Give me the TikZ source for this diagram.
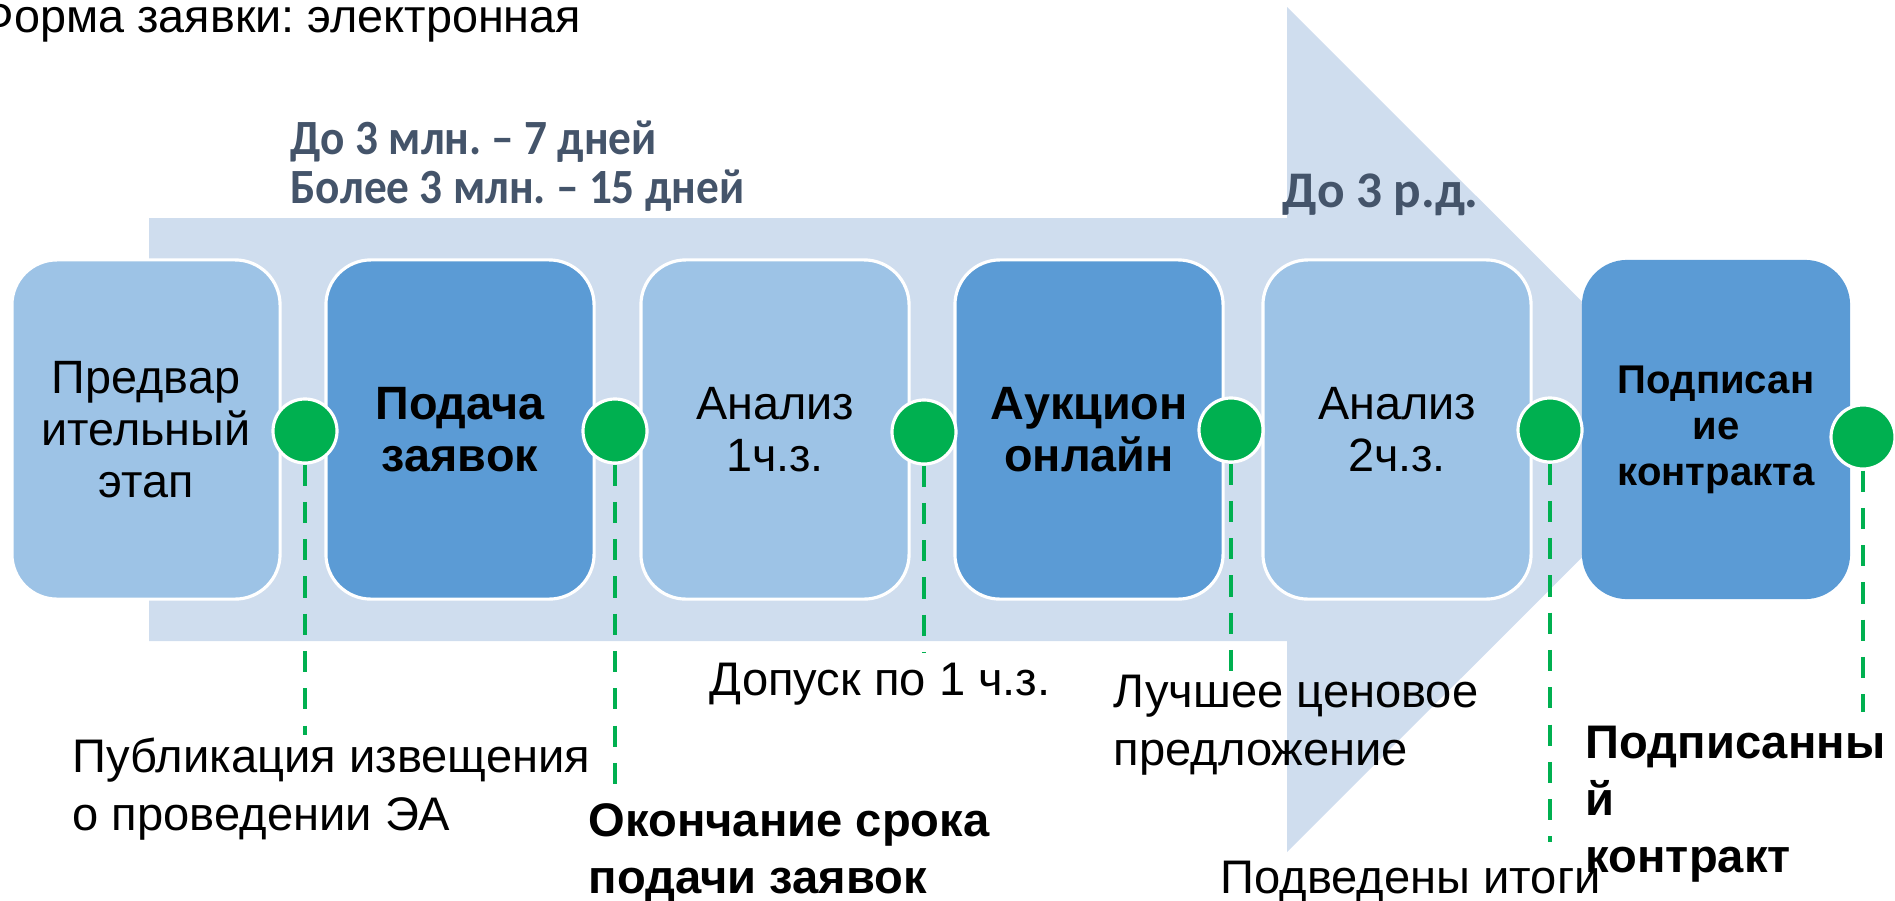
\documentclass[tikz,border=0pt]{standalone}
\usepackage{fontspec}
\setmainfont{Liberation Sans}
\newfontfamily\carlito{Carlito}
\newfontfamily\carlitonarrow[FakeStretch=0.92]{Carlito}
\usepackage{tikz}
\frenchspacing

\definecolor{bandblue}{RGB}{207,221,238}
\definecolor{paleblue}{RGB}{157,195,230}
\definecolor{midblue}{RGB}{91,155,213}
\definecolor{okgreen}{RGB}{0,176,80}
\definecolor{slate}{RGB}{68,84,106}

\tikzset{
  stage/.style={rectangle, rounded corners=12.8pt, minimum width=2.68cm,
    minimum height=3.39cm, draw=white, line width=0.9pt, align=center,
    inner sep=0pt, font=\fontsize{13.3}{14.8}\selectfont},
  light/.style={stage, fill=paleblue},
  dark/.style={stage, fill=midblue, font=\fontsize{13.3}{14.8}\selectfont\bfseries},
  dot/.style={circle, fill=okgreen, draw=white, line width=0.9pt,
    minimum size=0.64cm, inner sep=0pt},
  tick/.style={okgreen, line width=1.15pt, dash pattern=on 6pt off 4.6pt},
  note/.style={anchor=base west, align=left, inner sep=0pt,
    font=\fontsize{13.4}{16.3}\selectfont},
  boldnote/.style={note, font=\fontsize{13.4}{16.2}\selectfont\bfseries},
  term/.style={anchor=base west, align=left, inner sep=0pt, text=slate,
    font=\carlitonarrow\bfseries\fontsize{14}{13.7}\selectfont}
}

\begin{document}
\begin{tikzpicture}[x=0.01cm, y=-0.01cm]
  \useasboundingbox (0,0) rectangle (1895,900);
  \fill[bandblue] (149,218) -- (1287,218) -- (1287,7) -- (1710,429.5)
    -- (1287,852) -- (1287,641) -- (149,641) -- cycle;

  \node[light] (s1) at (146,429.5) {Предвар\\ительный\\этап};
  \node[dark]  (s2) at (460,429.5) {Подача\\заявок};
  \node[light] (s3) at (775,429.5) {Анализ\\1ч.з.};
  \node[dark]  (s4) at (1089,429.5) {Аукцион\\онлайн};
  \node[light] (s5) at (1397,429.5) {Анализ\\2ч.з.};
  \node[dark, draw=none, font=\fontsize{11.4}{13.1}\selectfont\bfseries]
    (s6) at (1716,429.5) {Подписан\\ие\\контракта};

  \foreach \i/\x/\y/\e in {1/305/431/735, 2/615/431/800, 3/924/432/653,
                           4/1231/430/672, 5/1550/430/842, 6/1863/437/712} {
    \node[dot] (c\i) at (\x,\y) {};
    \coordinate (e\i) at (\x,\e);
    \draw[tick] (c\i.south) -- (e\i);
  }

  \node[term] (limits) at (290,203) {До 3 млн. – 7 дней\\Более 3 млн. – 15 дней};
  \node[term, font=\carlito\bfseries\fontsize{14.6}{15}\selectfont]
    (days) at (1282,207) {До 3 р.д.};

  \node[note] (publish) at (72,830) {Публикация извещения\\о проведении ЭА};
  \node[boldnote] (deadline) at (588,893) {Окончание срока\\подачи заявок};
  \node[note] (admit) at (709,695) {Допуск по 1 ч.з.};
  \node[note] (bestprice) at (1113,765) {Лучшее ценовое\\предложение};
  \node[note] (results) at (1220,893) {Подведены итоги};
  \node[boldnote] (signed) at (1585,872) {Подписанны\\й\\контракт};

  \node[anchor=base west, inner sep=0pt, font=\fontsize{13.3}{14.8}\selectfont]
    (form) at (-22,32) {Форма заявки: электронная};
\end{tikzpicture}
\end{document}
